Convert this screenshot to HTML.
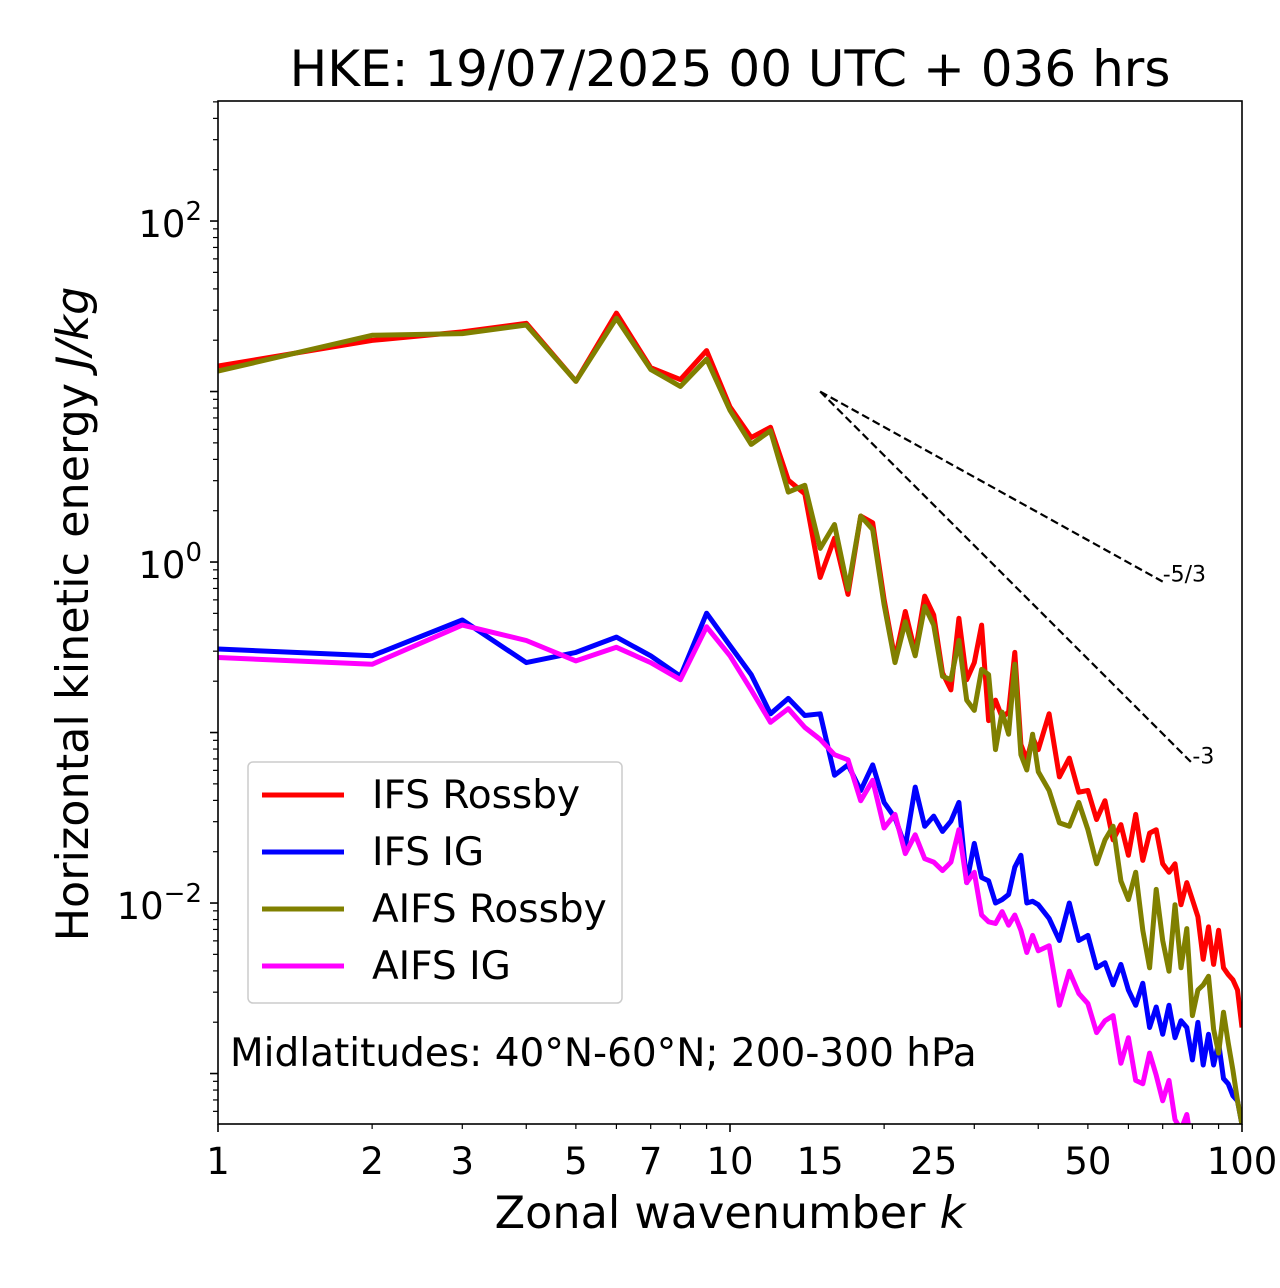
<!DOCTYPE html>
<html><head><meta charset="utf-8"><style>
body{margin:0;background:#fff;}
svg{display:block;font-family:"DejaVu Sans","Liberation Sans",sans-serif;}
</style></head><body>
<svg id="chart" width="1280" height="1288" viewBox="0 0 1280 1288">
<defs><clipPath id="clip"><rect x="218" y="101" width="1024" height="1023"/></clipPath></defs>
<rect x="0" y="0" width="1280" height="1288" fill="#fff"/>
<text x="730" y="86" font-size="50" text-anchor="middle">HKE: 19/07/2025 00 UTC + 036 hrs</text>
<g id="ticks"></g>
<g id="series" clip-path="url(#clip)"></g>
<rect x="218" y="101" width="1024" height="1023" fill="none" stroke="#000" stroke-width="1.6"/>
<text transform="translate(88,614) rotate(-90)" font-size="44.5" text-anchor="middle">Horizontal kinetic energy <tspan font-style="italic">J/kg</tspan></text>
<text x="730" y="1228" font-size="44.5" text-anchor="middle">Zonal wavenumber <tspan font-style="italic">k</tspan></text>
<text x="230" y="1066" font-size="39">Midlatitudes: 40°N-60°N; 200-300 hPa</text>
<g>
<rect x="248" y="762" width="374" height="241" rx="5" fill="#fff" fill-opacity="0.8" stroke="#ccc" stroke-width="1.5"/>
<g><line x1="262" y1="795" x2="344" y2="795" stroke="#ff0000" stroke-width="5"/><text x="372" y="808" font-size="39">IFS Rossby</text></g>
<g><line x1="262" y1="852" x2="344" y2="852" stroke="#0000ff" stroke-width="5"/><text x="372" y="865" font-size="39">IFS IG</text></g>
<g><line x1="262" y1="909" x2="344" y2="909" stroke="#808000" stroke-width="5"/><text x="372" y="922" font-size="39">AIFS Rossby</text></g>
<g><line x1="262" y1="966" x2="344" y2="966" stroke="#ff00ff" stroke-width="5"/><text x="372" y="979" font-size="39">AIFS IG</text></g>
</g>
</svg>
<script>
const wavenumbers = [1,2,3,4,5,6,7,8,9,10,11,12,13,14,15,16,17,18,19,20,21,22,23,24,25,26,27,28,29,30,31,32,33,34,35,36,37,38,39,40,42,44,46,48,50,52,54,56,58,60,62,64,66,68,70,72,74,76,78,80,82,84,86,88,90,92,94,96,98,100];
const ifsRossbyLog10 = [1.15,1.30,1.35,1.40,1.06,1.46,1.14,1.07,1.24,0.91,0.73,0.79,0.48,0.40,-0.09,0.14,-0.19,0.27,0.23,-0.22,-0.57,-0.29,-0.53,-0.20,-0.31,-0.65,-0.75,-0.33,-0.69,-0.59,-0.37,-0.93,-0.81,-0.91,-0.88,-0.53,-1.07,-1.16,-1.03,-1.10,-0.89,-1.26,-1.15,-1.35,-1.34,-1.51,-1.40,-1.63,-1.54,-1.72,-1.48,-1.75,-1.59,-1.57,-1.77,-1.82,-1.77,-2.01,-1.88,-1.98,-2.08,-2.33,-2.14,-2.36,-2.16,-2.38,-2.42,-2.45,-2.51,-2.73];
const ifsIgLog10 = [-0.51,-0.55,-0.34,-0.59,-0.53,-0.44,-0.55,-0.67,-0.30,-0.49,-0.66,-0.89,-0.80,-0.90,-0.89,-1.25,-1.19,-1.34,-1.19,-1.41,-1.50,-1.67,-1.32,-1.55,-1.49,-1.58,-1.52,-1.41,-1.88,-1.65,-1.85,-1.87,-2.00,-1.98,-1.95,-1.79,-1.72,-2.00,-1.99,-2.01,-2.09,-2.22,-2.00,-2.22,-2.19,-2.38,-2.35,-2.48,-2.36,-2.51,-2.60,-2.47,-2.73,-2.61,-2.77,-2.60,-2.79,-2.69,-2.73,-2.92,-2.70,-2.95,-2.77,-2.95,-2.82,-3.03,-3.06,-3.13,-3.16,-3.30];
const aifsRossbyLog10 = [1.12,1.33,1.34,1.39,1.06,1.43,1.13,1.03,1.19,0.89,0.69,0.77,0.41,0.45,0.08,0.22,-0.16,0.27,0.19,-0.25,-0.59,-0.35,-0.55,-0.26,-0.37,-0.67,-0.69,-0.46,-0.81,-0.87,-0.63,-0.66,-1.10,-0.88,-1.01,-0.60,-1.13,-1.22,-1.01,-1.23,-1.34,-1.53,-1.55,-1.41,-1.57,-1.77,-1.63,-1.55,-1.87,-1.98,-1.82,-2.16,-2.38,-1.92,-2.22,-2.40,-2.01,-2.38,-2.15,-2.66,-2.51,-2.48,-2.43,-2.74,-2.88,-2.64,-2.82,-2.98,-3.16,-3.30];
const aifsIgLog10 = [-0.56,-0.60,-0.37,-0.46,-0.58,-0.50,-0.59,-0.69,-0.38,-0.55,-0.75,-0.94,-0.86,-0.97,-1.04,-1.13,-1.16,-1.40,-1.28,-1.56,-1.48,-1.71,-1.60,-1.74,-1.76,-1.81,-1.76,-1.57,-1.88,-1.82,-2.07,-2.11,-2.12,-2.05,-2.13,-2.07,-2.16,-2.29,-2.19,-2.28,-2.25,-2.60,-2.40,-2.53,-2.59,-2.76,-2.69,-2.66,-2.94,-2.79,-3.04,-3.06,-2.88,-3.01,-3.16,-3.04,-3.27,-3.33,-3.24,-3.45,-3.5,-3.5,-3.5,-3.5,-3.5,-3.5,-3.5,-3.5,-3.5,-3.5];
const xTickLabels = ["1","2","3","5","7","10","15","25","50","100"];
const xTickValues = [1,2,3,5,7,10,15,25,50,100];
const yMajorExps = [-2,0,2];
const slopeRefK = [15,70,80];
const slopeRefE = 10;
const slopes = [-5/3,-3];
const slopeLabels = ["-5/3","-3"];

const NS = "http://www.w3.org/2000/svg";
const X0=218, X1=1242, Y0=101, Y1=1124;
const xMinL=0, xMaxL=2, yMinL=-3.296, yMaxL=2.704;
function xScale(k){return X0+(Math.log10(k)-xMinL)/(xMaxL-xMinL)*(X1-X0);}
function yScaleL(l){return Y1-(l-yMinL)/(yMaxL-yMinL)*(Y1-Y0);}
function yScale(e){return yScaleL(Math.log10(e));}
function mk(tag,attrs,parent){const e=document.createElementNS(NS,tag);for(const a in attrs)e.setAttribute(a,attrs[a]);parent.appendChild(e);return e;}

const ticks=document.getElementById('ticks');
for(let d=0;d<2;d++){for(let m=1;m<10;m++){const v=m*Math.pow(10,d);const x=xScale(v);const major=(m===1);
 const t=mk('line',{x1:x,y1:Y1,x2:x,y2:Y1+(major?8:5),stroke:'#000','stroke-width':major?1.6:1.2},ticks);
 
 }}
{const t=mk('line',{x1:X1,y1:Y1,x2:X1,y2:Y1+8,stroke:'#000','stroke-width':1.6},ticks);
 
 }
xTickValues.forEach((v,i)=>{const t=mk('text',{x:xScale(v),y:Y1+50,'font-size':37,'text-anchor':'middle'},ticks);t.textContent=xTickLabels[i];
 
 });
for(let d=-4;d<3;d++){for(let m=1;m<10;m++){const l=d+Math.log10(m);if(l<yMinL||l>yMaxL)continue;const y=yScaleL(l);const major=(m===1);
 const t=mk('line',{x1:X0,y1:y,x2:X0-(major?8:5),y2:y,stroke:'#000','stroke-width':major?1.6:1.2},ticks);
 
 }}
yMajorExps.forEach(p=>{const y=yScaleL(p);const t=mk('text',{x:202,y:y+16,'font-size':37,'text-anchor':'end'},ticks);
 
 
 const a=mk('tspan',{},t);a.textContent='10';const b=mk('tspan',{dy:-17,'font-size':26},t);b.textContent=(p<0?'\u2212':'')+Math.abs(p);});

const sg=document.getElementById('series');
function drawSeries(vals,color,name){const d=vals.map((l,i)=>(i?'L':'M')+xScale(wavenumbers[i]).toFixed(1)+','+yScaleL(l).toFixed(1)).join(' ');
 const p=mk('path',{d:d,fill:'none',stroke:color,'stroke-width':5,'stroke-linejoin':'round'},sg);
 
 }
drawSeries(ifsRossbyLog10,'#ff0000','ifs-rossby-line');
drawSeries(ifsIgLog10,'#0000ff','ifs-ig-line');
drawSeries(aifsRossbyLog10,'#808000','aifs-rossby-line');
drawSeries(aifsIgLog10,'#ff00ff','aifs-ig-line');
const svg=document.getElementById('chart');
slopes.forEach((s,i)=>{const k0=slopeRefK[0],k1=slopeRefK[i+1];const e1=slopeRefE*Math.pow(k1/k0,s);
 const ln=mk('line',{x1:xScale(k0),y1:yScale(slopeRefE),x2:xScale(k1),y2:yScale(e1),stroke:'#000','stroke-width':2.2,'stroke-dasharray':'8,4'},svg);
 
 
 const t=mk('text',{x:xScale(k1),y:yScale(e1),'font-size':22},svg);t.textContent=slopeLabels[i];
 
 });
</script>
</body></html>
